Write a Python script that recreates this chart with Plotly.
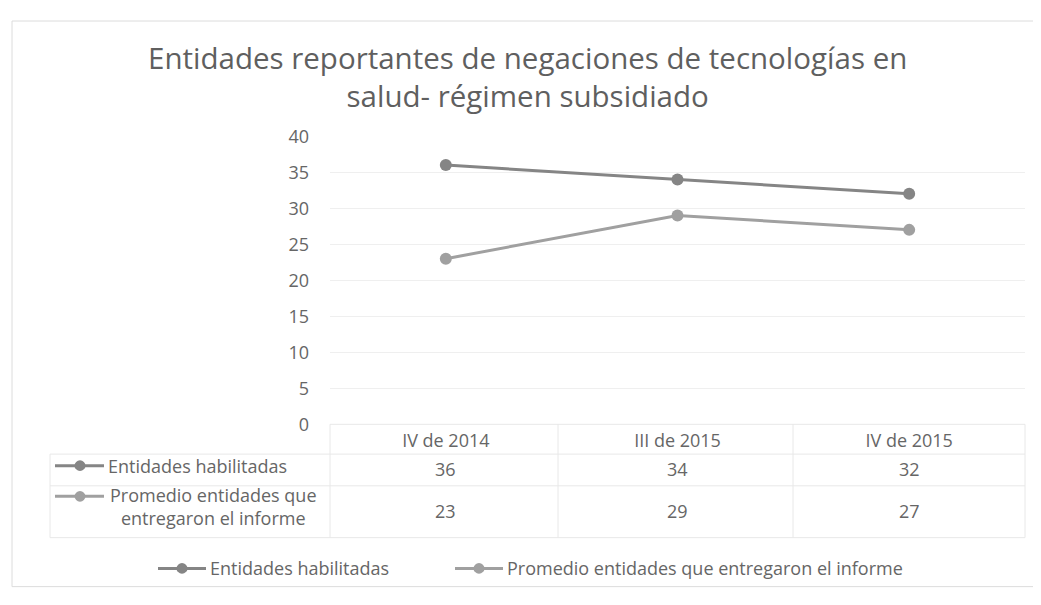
import plotly.graph_objects as go

categories = ["IV de 2014", "III de 2015", "IV de 2015"]
series_names = ["Entidades habilitadas", "Promedio entidades que entregaron el informe"]
table_labels = ["Entidades habilitadas", "Promedio entidades que<br>entregaron el informe"]
habilitadas = [36, 34, 32]
promedio = [23, 29, 27]
y_ticks = [0, 5, 10, 15, 20, 25, 30, 35, 40]
title_text = "Entidades reportantes de negaciones de tecnologías en<br>salud- régimen subsidiado"

W, H = 1041, 605
OFF = 8  # page body margin
FONT = "Open Sans"
TXT = "#666666"
FS = 18
colors = ["#858585", "#a0a0a0"]


def px(x):
    return (x - OFF) / W


def py(y):
    return 1 - (y - OFF) / H


X0, X1 = 330, 1025
Y_TOP, Y_AX = 128, 428

fig = go.Figure()
for name, vals, c in zip(series_names, [habilitadas, promedio], colors):
    fig.add_trace(go.Scatter(
        x=categories, y=vals, name=name, mode="lines+markers",
        line=dict(color=c, width=3),
        marker=dict(color=c, size=12, symbol="circle"),
        cliponaxis=False,
    ))

shapes = []
line_style = dict(color="#e8e8e8", width=1)
rows_y = [459, 492, 546]
shapes.append(dict(type="line", xref="paper", yref="paper", x0=px(X0), x1=px(X1),
                   y0=py(Y_AX), y1=py(Y_AX), line=line_style))
for ry in rows_y:
    shapes.append(dict(type="line", xref="paper", yref="paper", x0=px(50), x1=px(X1),
                       y0=py(ry), y1=py(ry), line=line_style))
shapes.append(dict(type="line", xref="paper", yref="paper", x0=px(50), x1=px(50),
                   y0=py(459), y1=py(546), line=line_style))
for vx in [X0, 558, 793, X1]:
    shapes.append(dict(type="line", xref="paper", yref="paper", x0=px(vx), x1=px(vx),
                       y0=py(Y_AX), y1=py(546), line=line_style))
shapes.append(dict(type="rect", xref="paper", yref="paper", x0=px(12), x1=px(1036),
                   y0=py(8), y1=py(597), line=dict(color="#dcdcdc", width=1)))

annotations = []
value_rows = [475, 518]
label_rows = [471, 514]
key_rows = [471, 503]
for ri, (lbl, vals, c) in enumerate(zip(table_labels, [habilitadas, promedio], colors)):
    for ci, v in enumerate(vals):
        annotations.append(dict(x=categories[ci], xref="x", y=py(value_rows[ri]), yref="paper",
                                text=str(v), showarrow=False,
                                font=dict(family=FONT, size=FS, color=TXT),
                                xanchor="center", yanchor="middle"))
    ky = key_rows[ri]
    shapes.append(dict(type="line", xref="paper", yref="paper", x0=px(55), x1=px(104),
                       y0=py(ky), y1=py(ky), line=dict(color=c, width=3)))
    shapes.append(dict(type="circle", xref="paper", yref="paper", x0=px(74.5), x1=px(85.5),
                       y0=py(ky - 5.5), y1=py(ky + 5.5), fillcolor=c, line=dict(color=c, width=0)))
    if ri == 0:
        annotations.append(dict(x=px(106), xref="paper", y=py(label_rows[0]), yref="paper",
                                text=lbl, showarrow=False,
                                font=dict(family=FONT, size=FS, color=TXT),
                                xanchor="left", yanchor="middle"))
    else:
        annotations.append(dict(x=px(213), xref="paper", y=py(label_rows[1]), yref="paper",
                                text=lbl, showarrow=False,
                                font=dict(family=FONT, size=FS, color=TXT),
                                xanchor="center", yanchor="middle", align="center"))

legend_items = [(158, series_names[0], colors[0]), (455, series_names[1], colors[1])]
for lx, name, c in legend_items:
    shapes.append(dict(type="line", xref="paper", yref="paper", x0=px(lx), x1=px(lx + 48),
                       y0=py(578), y1=py(578), line=dict(color=c, width=3)))
    shapes.append(dict(type="circle", xref="paper", yref="paper", x0=px(lx + 18.5), x1=px(lx + 29.5),
                       y0=py(572.5), y1=py(583.5), fillcolor=c, line=dict(color=c, width=0)))
    annotations.append(dict(x=px(lx + 50), xref="paper", y=py(578), yref="paper", text=name,
                            showarrow=False, font=dict(family=FONT, size=FS, color=TXT),
                            xanchor="left", yanchor="middle"))

annotations.append(dict(x=px(527), xref="paper", y=py(66), yref="paper", text=title_text,
                        showarrow=False, font=dict(family=FONT, size=29.5, color="#5f5f5f"),
                        xanchor="center", yanchor="middle", align="center"))

fig.update_layout(
    width=W, height=H,
    margin=dict(l=0, r=0, t=0, b=0),
    paper_bgcolor="white", plot_bgcolor="white",
    showlegend=False,
    shapes=shapes, annotations=annotations,
    xaxis=dict(domain=[px(X0), px(X1)], type="category", range=[-0.5, 2.5],
               showgrid=False, zeroline=False, showline=False, ticks="",
               tickfont=dict(family=FONT, size=FS, color=TXT), ticklabelstandoff=4),
    yaxis=dict(domain=[py(Y_AX), py(Y_TOP)], range=[0, 40], tickvals=y_ticks,
               showgrid=True, gridcolor="#efefef", gridwidth=1, zeroline=False, showline=False,
               ticks="", tickfont=dict(family=FONT, size=FS, color=TXT), ticklabelstandoff=20),
)

fig.write_html("out.html")
